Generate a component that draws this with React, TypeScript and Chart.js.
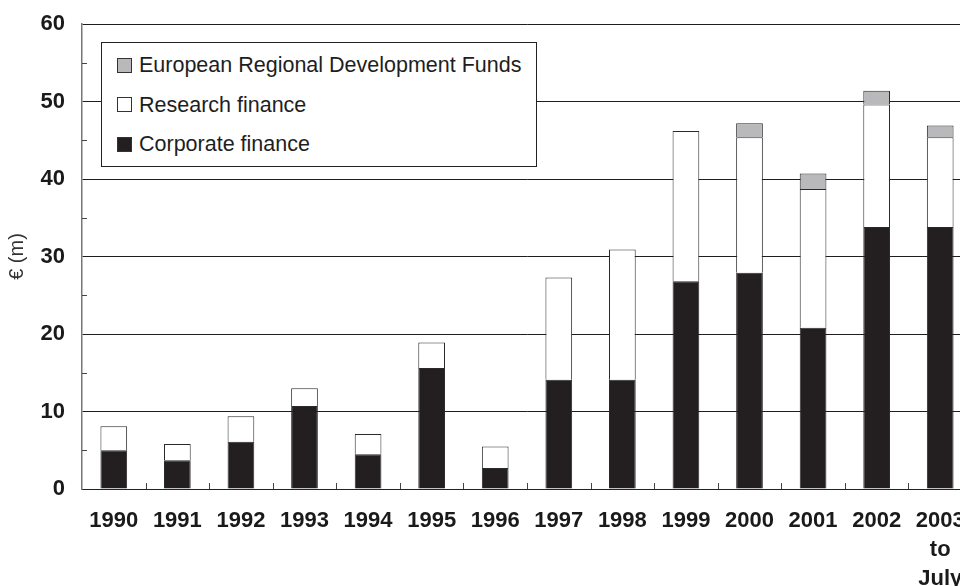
import React, { useEffect, useRef } from 'react';
import { Chart, registerables } from 'chart.js';

Chart.register(...registerables);

// ---- data ----
const YEARS: (string | string[])[] = [
  '1990', '1991', '1992', '1993', '1994', '1995', '1996',
  '1997', '1998', '1999', '2000', '2001', '2002', ['2003', 'to', 'July'],
];
const CORPORATE = [5.0, 3.7, 6.1, 10.7, 4.5, 15.6, 2.7, 14.1, 14.1, 26.8, 27.9, 20.8, 33.8, 33.8];
const RESEARCH = [3.1, 2.1, 3.3, 2.3, 2.6, 3.3, 2.8, 13.2, 16.8, 19.4, 17.5, 17.9, 15.8, 11.6];
const ERDF = [0, 0, 0, 0, 0, 0, 0, 0, 0, 0, 1.8, 2.0, 1.8, 1.5];
const Y_MIN = 0;
const Y_MAX = 60;
const Y_STEP = 10;
const Y_MINOR_TICKS = [5, 15, 25, 35, 45, 55];
const Y_TITLE = '€ (m)';

const SERIES_NAMES = {
  erdf: 'European Regional Development Funds',
  research: 'Research finance',
  corporate: 'Corporate finance',
};

const COLORS = {
  corporate: '#231f20',
  research: '#ffffff',
  erdf: '#b9b9bb',
  border: '#2a2a2a',
};

const FONT = "'Liberation Sans', Arial, Helvetica, sans-serif";

const innerTicks = {
  id: 'innerTicks',
  afterDatasetsDraw(chart: any) {
    const { ctx } = chart;
    const xs = chart.scales.x;
    const ys = chart.scales.y;
    ctx.save();
    ctx.strokeStyle = '#444';
    ctx.lineWidth = 1;
    ctx.beginPath();
    const n = xs.ticks.length;
    for (let i = 1; i < n; i++) {
      const px = Math.round((xs.getPixelForValue(i - 1) + xs.getPixelForValue(i)) / 2) + 0.5;
      ctx.moveTo(px, ys.bottom);
      ctx.lineTo(px, ys.bottom - 6);
    }
    for (const v of Y_MINOR_TICKS) {
      const py = Math.round(ys.getPixelForValue(v)) + 0.5;
      ctx.moveTo(xs.left, py);
      ctx.lineTo(xs.left + 5, py);
    }
    ctx.stroke();
    ctx.restore();
  },
};

export default function App() {
  const canvasRef = useRef<HTMLCanvasElement | null>(null);

  useEffect(() => {
    if (!canvasRef.current) return;
    const chart = new Chart(canvasRef.current, {
      type: 'bar',
      data: {
        labels: YEARS as any,
        datasets: [
          {
            label: SERIES_NAMES.corporate,
            data: CORPORATE,
            backgroundColor: COLORS.corporate,
            borderColor: COLORS.border,
            borderWidth: 1,
            barPercentage: 0.84,
            categoryPercentage: 0.5,
          },
          {
            label: SERIES_NAMES.research,
            data: RESEARCH,
            backgroundColor: COLORS.research,
            borderColor: COLORS.border,
            borderWidth: 1,
            barPercentage: 0.84,
            categoryPercentage: 0.5,
          },
          {
            label: SERIES_NAMES.erdf,
            data: ERDF,
            backgroundColor: COLORS.erdf,
            borderColor: COLORS.border,
            borderWidth: 1,
            barPercentage: 0.84,
            categoryPercentage: 0.5,
          },
        ],
      },
      options: {
        animation: false,
        responsive: true,
        maintainAspectRatio: false,
        layout: { padding: { left: 0, top: 24, right: 28, bottom: 0 } },
        plugins: {
          legend: { display: false },
          tooltip: { enabled: false },
        },
        scales: {
          x: {
            stacked: true,
            grid: { display: false, drawTicks: false },
            border: { display: true, color: '#222', width: 1 },
            ticks: {
              color: '#1a1a1a',
              padding: 18,
              maxRotation: 0,
              autoSkip: false,
              font: { family: FONT, size: 22, weight: 'bold', lineHeight: 1.3 },
            },
            afterFit(scale: any) {
              scale.height = 111;
            },
          },
          y: {
            stacked: true,
            min: Y_MIN,
            max: Y_MAX,
            grid: { color: '#1e1e1e', lineWidth: 1, drawTicks: false },
            border: { display: true, color: '#777', width: 1.5 },
            ticks: {
              stepSize: Y_STEP,
              color: '#1a1a1a',
              padding: 17,
              font: { family: FONT, size: 22, weight: 'bold' },
            },
            title: {
              display: true,
              text: Y_TITLE,
              color: '#333',
              padding: { top: 5, bottom: 0 },
              font: { family: FONT, size: 20 },
            },
            afterFit(scale: any) {
              scale.width = 82;
              scale.paddingTop = 0;
              scale.paddingBottom = 0;
            },
          },
        },
      },
      plugins: [innerTicks],
    });
    return () => chart.destroy();
  }, []);

  const legendItems = [
    { name: SERIES_NAMES.erdf, color: COLORS.erdf },
    { name: SERIES_NAMES.research, color: COLORS.research },
    { name: SERIES_NAMES.corporate, color: COLORS.corporate },
  ];

  return (
    <div style={{ position: 'fixed', left: 0, top: 0, width: '100vw', height: '100vh', overflow: 'hidden', background: '#fff' }}>
      <div style={{ position: 'absolute', left: 0, top: 0, width: 1000, height: 600 }}>
        <canvas ref={canvasRef} />
        <div
          style={{
            position: 'absolute',
            left: 101,
            top: 42,
            width: 436,
            height: 125,
            boxSizing: 'border-box',
            border: '1px solid #222',
            background: '#fff',
            fontFamily: FONT,
            fontSize: 21.5,
            color: '#1e1e1e',
          }}
        >
          {legendItems.map((it, i) => (
            <div
              key={it.name}
              style={{
                position: 'absolute',
                left: 15,
                top: 11 + i * 39.6,
                height: 22,
                display: 'flex',
                alignItems: 'center',
                whiteSpace: 'nowrap',
              }}
            >
              <span
                style={{
                  display: 'inline-block',
                  width: 15,
                  height: 15,
                  boxSizing: 'border-box',
                  border: '1px solid #333',
                  background: it.color,
                  marginRight: 7,
                }}
              />
              <span style={{ lineHeight: '22px' }}>{it.name}</span>
            </div>
          ))}
        </div>
      </div>
    </div>
  );
}
